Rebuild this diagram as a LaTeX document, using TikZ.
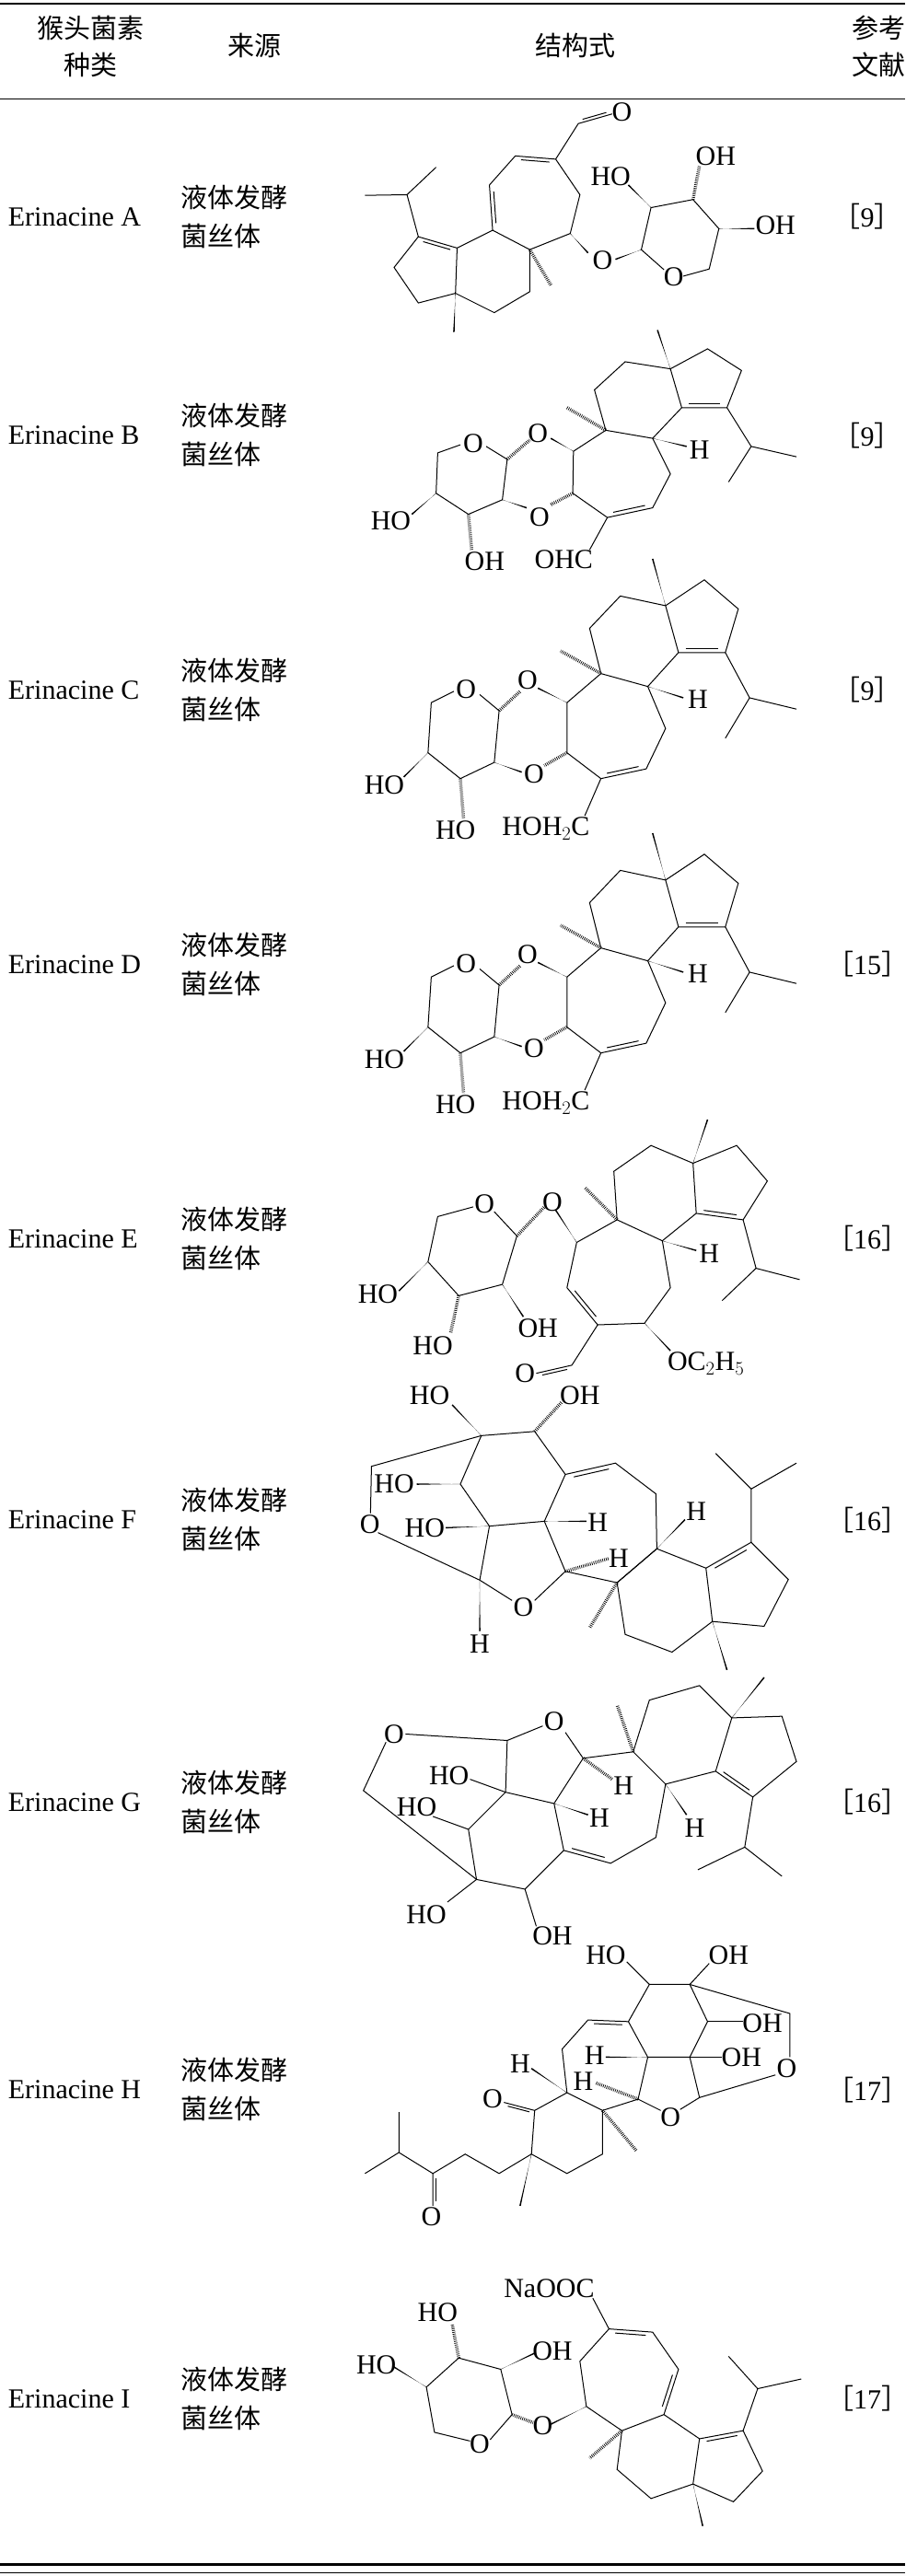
\documentclass[tikz,border=0pt]{standalone}
\usepackage{fontspec}
\setmainfont{Liberation Serif}
\newfontfamily\cjk{Noto Sans CJK SC}
\usetikzlibrary{calc}
\newcounter{lc}
\newcommand\lb[2]{\stepcounter{lc}\node[lab] (L\arabic{lc}) at (#1) {#2};}
\newcommand\dbi[3]{\path (#1) coordinate (da) (#2) coordinate (db);
 \path ($(da)!0.15!(db)$) coordinate (dp) ($(da)!0.85!(db)$) coordinate (dq);
 \draw[bd] ($(dp)!#3!90:(dq)$) -- ($(dq)!#3!-90:(dp)$);}
\newcommand\wdg[2]{\fill ($(#1)!1pt!90:(#2)$) -- ($(#2)!4pt!90:(#1)$) -- ($(#2)!4pt!-90:(#1)$) -- ($(#1)!1pt!-90:(#2)$) -- cycle;}
\newcommand\hsh[2]{\draw[hs] (#1) -- (#2);}
\newcommand\molC{%
\wdg{1005,535}{965,390}
\draw[bd] (1005,535)--(865,505)--(770,605)--(805,745)--(950,785)--(1045,680)--cycle;
\draw[bd] (1005,535)--(1125,455)--(1230,545)--(1190,680)--(1045,680);
\dbi{1045,680}{1190,680}{0.12}
\draw[bd] (1190,680)--(1265,820)--(1410,855) (1265,820)--(1190,945);
\hsh{805,745}{680,675}
\wdg{950,785}{1060,820}\lb{1105,825}{H}
\draw[bd] (805,745)--(700,835)--(700,990)--(805,1070)--(945,1040)--(1005,915)--(950,785);
\dbi{805,1070}{945,1040}{0.12}
\wdg{700,835}{610,790}\lb{578,765}{O}
\hsh{700,990}{630,1030}\lb{598,1055}{O}
\hsh{490,860}{555,800}
\draw[bd] (490,860)--(475,1020);
\wdg{475,1020}{560,1050}
\draw[bd] (490,860)--(430,810) (350,800)--(280,835)--(270,990)--(370,1070)--(475,1020);
\lb{388,795}{O}
\wdg{270,990}{195,1065}\lb{135,1090}{HO}
\hsh{370,1070}{380,1195}\lb{355,1230}{HO}
\draw[bd] (805,1070)--(755,1185);\lb{635,1225}{HOH$_2$C}}
\begin{document}
\begin{tikzpicture}[x=1.784pt,y=-1.784pt,
  bd/.style={line width=1pt},
  hs/.style={line width=3.5pt,dash pattern=on 0.7pt off 1.3pt},
  lab/.style={font=\fontsize{30}{32}\selectfont,inner sep=0pt},
  nm/.style={font=\fontsize{30}{34}\selectfont,anchor=west},
  src/.style={font=\cjk\fontsize{29}{42}\selectfont,anchor=west,align=left},
  hd/.style={font=\cjk\fontsize{29}{40}\selectfont,align=center},
  rf/.style={font=\fontsize{30}{34}\selectfont},
  mol/.style={scale=0.1967}]
\useasboundingbox (0,0) rectangle (551,1568);
% rules
\draw[line width=2pt] (0,2) -- (551,2);
\draw[line width=1pt] (0,60) -- (551,60);
\draw[line width=2.5pt] (0,1561) -- (551,1561);
\draw[line width=1pt] (0,1566) -- (551,1566);
% header
\node[hd] (h1) at (55,28) {猴头菌素\\种类};
\node[hd] (h2) at (155,28) {来源};
\node[hd] (h3) at (350,28) {结构式};
\node[hd] (h4) at (535,28) {参考\\文献};
\foreach \y/\n/\r [count=\i] in {132/A/9,265/B/9,420/C/9,587/D/15,754/E/16,925/F/16,1097/G/16,1272/H/17,1460/I/17}{
  \node[nm] (n\i) at (3,\y) {Erinacine \n};
  \node[src] (s\i) at (108,\y) {液体发酵\\菌丝体};
  \node[rf] (r\i) at (528,\y) {{\cjk［}\r{\cjk］}};
}
% ---- A
\begin{scope}[shift={(207.4,28.03)},mol]
\draw[bd] (240,590)--(360,625)--(355,765)--(240,795)--(165,685)--cycle;
\dbi{240,590}{360,625}{-0.12}
\draw[bd] (240,590)--(205,460) (75,462)--(205,460)--(295,375);
\draw[bd] (360,625)--(470,570)--(585,630)--(585,760)--(475,825)--(355,765);
\wdg{355,765}{350,885}
\draw[bd] (470,570)--(460,430)--(540,340)--(665,350)--(740,460)--(710,580)--(585,630);
\dbi{470,570}{460,430}{-0.12}\dbi{540,340}{665,350}{-0.12}
\draw[bd] (665,350)--(735,240)--(840,210);\dbi{735,240}{840,210}{0.12}\lb{870,205}{O}
\hsh{585,630}{650,740}
\wdg{710,580}{765,640}\lb{810,662}{O}
\wdg{930,630}{850,660}
\draw[bd] (930,630)--(960,500)--(1090,475)--(1170,565)--(1140,690)--(1060,712) (1000,692)--(930,630);
\lb{1030,715}{O}
\wdg{960,500}{890,430}\lb{835,405}{HO}
\hsh{1090,475}{1110,370}\lb{1160,340}{OH}
\wdg{1170,565}{1280,565}\lb{1345,555}{OH}
\end{scope}
% ---- B
\begin{scope}[shift={(207.4,106.5)},mol]
\wdg{1020,600}{980,480}
\draw[bd] (1020,600)--(880,578)--(785,665)--(820,790)--(965,815)--(1055,720)--cycle;
\draw[bd] (1020,600)--(1135,538)--(1240,605)--(1195,720)--(1055,720);
\dbi{1055,720}{1195,720}{0.12}
\draw[bd] (1195,720)--(1270,840)--(1410,872) (1270,840)--(1200,950);
\hsh{820,790}{700,720}
\wdg{965,815}{1070,840}\lb{1110,850}{H}
\draw[bd] (820,790)--(720,855)--(718,985)--(825,1060)--(965,1030)--(1020,925)--(965,815);
\dbi{825,1060}{965,1030}{0.12}
\wdg{720,855}{650,815}\lb{610,800}{O}
\hsh{718,985}{650,1020}\lb{615,1060}{O}
\hsh{515,880}{585,820}
\draw[bd] (515,880)--(500,1005);
\wdg{500,1005}{575,1030}
\draw[bd] (515,880)--(450,840) (370,835)--(300,860)--(295,985)--(395,1050)--(500,1005);
\lb{410,830}{O}
\wdg{295,985}{220,1050}\lb{155,1070}{HO}
\hsh{395,1050}{405,1160}\lb{445,1195}{OH}
\draw[bd] (825,1060)--(770,1160);\lb{690,1190}{OHC}
\end{scope}
% ---- C, D
\begin{scope}[shift={(207.4,263.45)},mol]\molC\end{scope}
\begin{scope}[shift={(207.4,430.45)},mol]\molC\end{scope}
% ---- E
\begin{scope}[shift={(207.4,616.59)},mol]
\wdg{1090,465}{1135,330}
\draw[bd] (1090,465)--(960,410)--(845,490)--(855,640)--(995,705)--(1100,620)--cycle;
\draw[bd] (1090,465)--(1225,410)--(1320,520)--(1245,640)--(1100,620);
\dbi{1100,620}{1245,640}{0.12}
\draw[bd] (1245,640)--(1285,790)--(1420,825) (1285,790)--(1180,890);
\hsh{855,640}{755,540}
\wdg{995,705}{1100,735}\lb{1140,745}{H}
\draw[bd] (855,640)--(730,710)--(700,850)--(795,965)--(940,960)--(1020,850)--(995,705);
\dbi{700,850}{795,965}{0.12}
\wdg{730,710}{665,610}\lb{655,585}{O}
\draw[bd] (795,965)--(715,1090)--(605,1115);\dbi{715,1090}{605,1115}{0.12}\lb{570,1115}{O}
\wdg{940,960}{1020,1045}\lb{1130,1085}{OC$_2$H$_5$}
\hsh{545,690}{630,600}
\draw[bd] (545,690)--(475,615) (410,600)--(300,630)--(270,770)--(365,875)--(500,840)--(545,690);
\lb{445,590}{O}
\wdg{270,770}{180,860}\lb{115,870}{HO}
\hsh{365,875}{340,990}\lb{285,1030}{HO}
\wdg{500,840}{565,940}\lb{610,975}{OH}
\end{scope}
% ---- F
\begin{scope}[shift={(207.4,829.6)},mol]
\draw[bd] (435,225)--(600,212)--(695,345)--(630,490)--(460,505)--(370,375)--cycle;
\draw[bd] (435,225)--(95,320)--(92,465) (115,525)--(430,672);
\lb{90,500}{O}
\wdg{435,225}{345,130}\lb{275,100}{HO}
\hsh{600,212}{685,120}\lb{740,100}{OH}
\wdg{370,375}{235,375}\lb{165,375}{HO}
\wdg{460,505}{325,510}\lb{260,510}{HO}
\draw[bd] (460,505)--(430,672);
\wdg{430,672}{430,830}\lb{430,870}{H}
\draw[bd] (430,672)--(530,735) (600,735)--(695,645)--(630,490);
\lb{565,755}{O}
\wdg{630,490}{760,490}\lb{795,495}{H}
\hsh{695,645}{830,605}\lb{860,605}{H}
\draw[bd] (695,345)--(850,310)--(975,405)--(978,575)--(855,680)--(695,645);
\dbi{695,345}{850,310}{-0.12}
\draw[bd] (855,680)--(978,575)--(1130,635)--(1150,800)--(1025,895)--(880,840)--cycle;
\hsh{855,680}{770,820}
\wdg{978,575}{1065,485}\lb{1100,460}{H}
\draw[bd] (1130,635)--(1270,555)--(1385,670)--(1310,815)--(1150,800);
\dbi{1130,635}{1270,555}{-0.12}
\wdg{1150,800}{1195,950}
\draw[bd] (1270,555)--(1270,390)--(1160,280) (1270,390)--(1410,310);
\end{scope}
% ---- G
\begin{scope}[shift={(207.4,1003.36)},mol]
\lb{165,265}{O}
\draw[bd] (200,265)--(515,285) (140,290)--(70,440)--(420,715);
\draw[bd] (515,285)--(625,240) (695,260)--(750,340);
\lb{660,225}{O}
\draw[bd] (515,285)--(510,445)--(660,480)--(750,340);
\lb{335,395}{HO}\draw[bd] (400,405)--(510,445);
\draw[bd] (510,445)--(395,560);
\lb{235,490}{HO}\draw[bd] (285,520)--(395,560);
\draw[bd] (395,560)--(420,715)--(570,745)--(690,625)--(660,480);
\wdg{660,480}{765,515}\lb{800,525}{H}
\hsh{750,340}{840,405}\lb{875,425}{H}
\draw[bd] (690,625)--(835,665)--(975,585)--(1005,420)--(905,320)--(750,340);
\dbi{690,625}{835,665}{0.12}
\hsh{905,320}{855,175}
\draw[bd] (905,320)--(955,160)--(1110,115)--(1210,215)--(1160,380)--(1005,420);
\wdg{1210,215}{1310,90}
\draw[bd] (1210,215)--(1365,210)--(1410,350)--(1275,460)--(1160,380);
\dbi{1160,380}{1275,460}{0.12}
\wdg{1005,420}{1070,515}\lb{1095,555}{H}
\draw[bd] (1275,460)--(1250,615)--(1105,685) (1250,615)--(1365,705);
\draw[bd] (420,715)--(330,785) (570,745)--(605,860);
\lb{265,825}{HO}\lb{655,890}{OH}
\end{scope}
% ---- H
\begin{scope}[shift={(207.4,1171.52)},mol]
\lb{820,95}{HO}\draw[bd] (885,115)--(955,185);
\lb{1200,95}{OH}\draw[bd] (1140,120)--(1080,185);
\draw[bd] (955,185)--(1080,185)--(1135,300)--(1080,410)--(950,410)--(890,300)--cycle;
\draw[bd] (1080,185)--(1390,275)--(1390,410) (1345,465)--(1110,535);
\lb{1380,445}{O}
\draw[bd] (1135,300)--(1245,300) (1080,410)--(1180,410);
\lb{1305,305}{OH}\lb{1240,410}{OH}
\draw[bd] (1080,410)--(1110,535)--(1050,572) (990,575)--(920,540)--(950,410);
\lb{1020,595}{O}
\wdg{950,410}{820,410}\lb{785,405}{H}
\draw[bd] (890,300)--(765,295)--(685,385)--(700,520);
\dbi{890,300}{765,295}{0.12}
\hsh{920,540}{790,490}\lb{750,485}{H}
\draw[bd] (700,520)--(810,575)--(920,540);
\draw[bd] (700,520)--(600,575)--(590,710)--(700,770)--(810,710)--(810,575);
\wdg{700,520}{590,445}\lb{555,430}{H}
\draw[bd] (600,575)--(505,550);\dbi{600,575}{505,550}{0.12}\lb{470,540}{O}
\hsh{810,575}{915,700}
\wdg{590,710}{555,870}
\draw[bd] (590,710)--(490,770)--(385,710)--(285,770)--(180,705)--(75,770) (180,705)--(180,580) (285,770)--(285,870);
\dbi{285,770}{285,870}{0.12}
\lb{280,905}{O}
\end{scope}
% ---- I
\begin{scope}[shift={(207.4,1373.32)},mol]
\lb{645,100}{NaOOC}\draw[bd] (780,130)--(830,225);
\draw[bd] (830,225)--(965,235)--(1045,350)--(1000,490)--(870,540)--(760,465)--(740,325)--cycle;
\dbi{830,225}{965,235}{-0.12}\dbi{1045,350}{1000,490}{-0.12}
\draw[bd] (1000,490)--(1110,565)--(1090,705)--(960,750)--(855,660)--(870,540);
\draw[bd] (1110,565)--(1245,540)--(1305,665)--(1215,760)--(1090,705);
\dbi{1110,565}{1245,540}{-0.12}
\draw[bd] (1245,540)--(1290,410)--(1200,310) (1290,410)--(1425,380);
\wdg{1090,705}{1120,835}
\hsh{870,540}{770,625}
\wdg{760,465}{650,520}\lb{625,525}{O}
\hsh{530,490}{595,515}
\draw[bd] (530,490)--(495,350)--(365,315)--(265,405)--(290,545)--(400,572) (462,568)--(530,490);
\lb{430,580}{O}
\wdg{495,350}{600,300}\lb{655,295}{OH}
\hsh{365,315}{345,210}\lb{300,175}{HO}
\wdg{265,405}{160,340}\lb{110,335}{HO}
\end{scope}
\end{tikzpicture}
\end{document}
